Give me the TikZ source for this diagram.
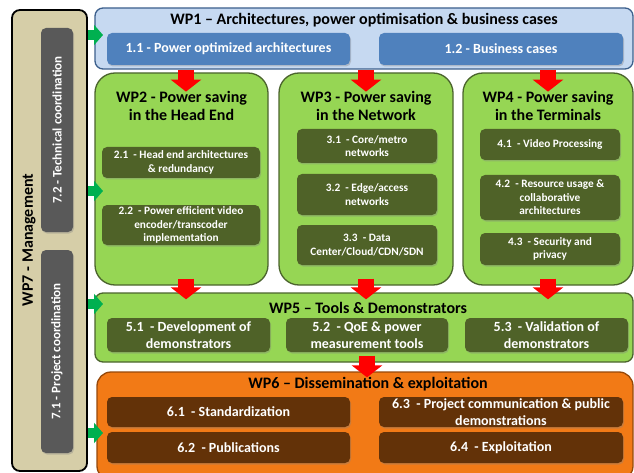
\documentclass[tikz,border=0pt]{standalone}
\usepackage{fontspec}
\setmainfont{Carlito}
\usetikzlibrary{arrows.meta,shadows}
\definecolor{MgmtClr}{RGB}{214,206,168}
\definecolor{CoordClr}{RGB}{89,89,89}
\definecolor{BlueClr}{RGB}{198,217,241}
\definecolor{BlueLine}{RGB}{60,95,140}
\definecolor{BlueSub}{RGB}{79,129,189}
\definecolor{GreenClr}{RGB}{150,214,84}
\definecolor{GreenLine}{RGB}{75,100,45}
\definecolor{GreenSub}{RGB}{79,98,40}
\definecolor{OrangeClr}{RGB}{242,122,22}
\definecolor{OrangeLine}{RGB}{150,72,10}
\definecolor{BrownSub}{RGB}{99,50,8}
\definecolor{ArrowGreen}{RGB}{0,176,80}

\begin{document}
\begin{tikzpicture}[x=1pt,y=-1pt,
  wpbox/.style={draw,line width=1.3pt,inner sep=0pt},
  subbox/.style={rounded corners=5pt,inner sep=1pt,align=center,text=white,
    drop shadow={shadow xshift=1pt,shadow yshift=-1.5pt,opacity=0.35}},
  title/.style={font=\bfseries\fontsize{16}{18}\selectfont,align=center},
  bigtxt/.style={font=\bfseries\fontsize{14}{16.5}\selectfont},
  smalltxt/.style={font=\bfseries\fontsize{11.3}{13.6}\selectfont},
  redarrow/.style={red,line width=16pt,-{Triangle[width=30pt,length=12pt]}},
  greenarrow/.style={ArrowGreen,line width=10pt,-{Triangle[width=20pt,length=9pt]}}]
\clip (0,0) rectangle (634,473);

% WP7
\node[wpbox,fill=MgmtClr,line width=1.8pt,rounded corners=8pt,
  minimum width=75pt,minimum height=461pt] (wp7) at (49.5,240.5) {};
\node[title,rotate=90] (wp7t) at (29,240) {WP7 - Management};
\node[subbox,fill=CoordClr,rotate=90,minimum width=204pt,minimum height=32pt,
  font=\bfseries\fontsize{13}{15}\selectfont] (t72) at (57,130) {7.2 - Technical coordination};
\node[subbox,fill=CoordClr,rotate=90,minimum width=203pt,minimum height=32pt,
  font=\bfseries\fontsize{13}{15}\selectfont] (t71) at (57,351.5) {7.1 - Project coordination};

% WP1
\node[wpbox,fill=BlueClr,draw=BlueLine,rounded corners=8pt,
  minimum width=538pt,minimum height=61pt] (wp1) at (364,38.5) {};
\node[title] (wp1t) at (364,20) {WP1 – Architectures, power optimisation \& business cases};
\node[subbox,bigtxt,fill=BlueSub,minimum width=243pt,minimum height=32pt] (p11) at (228.5,49) {1.1 - Power optimized architectures};
\node[subbox,bigtxt,fill=BlueSub,minimum width=244pt,minimum height=32pt] (p12) at (501,49) {1.2 - Business cases};

% WP2 - WP4
\node[wpbox,fill=GreenClr,draw=GreenLine,rounded corners=20pt,
  minimum width=173pt,minimum height=212pt] (wp2) at (181.5,179) {};
\node[wpbox,fill=GreenClr,draw=GreenLine,rounded corners=20pt,
  minimum width=174pt,minimum height=212pt] (wp3) at (366,179) {};
\node[wpbox,fill=GreenClr,draw=GreenLine,rounded corners=20pt,
  minimum width=170pt,minimum height=212pt] (wp4) at (548,179) {};
\node[title] (wp2t) at (181.5,106) {WP2 - Power saving\\in the Head End};
\node[title] (wp3t) at (366,106) {WP3 - Power saving\\in the Network};
\node[title] (wp4t) at (548,106) {WP4 - Power saving\\in the Terminals};

\node[subbox,smalltxt,fill=GreenSub,minimum width=158pt,minimum height=31pt] (p21) at (181,162.5) {2.1~ - Head end architectures\\\& redundancy};
\node[subbox,smalltxt,fill=GreenSub,minimum width=158pt,minimum height=40pt] (p22) at (181,225) {2.2~ - Power efficient video\\encoder/transcoder\\implementation};
\node[subbox,smalltxt,fill=GreenSub,minimum width=140pt,minimum height=34pt] (p31) at (367,146) {3.1~ - Core/metro\\networks};
\node[subbox,smalltxt,fill=GreenSub,minimum width=140pt,minimum height=41pt] (p32) at (367,194.5) {3.2~ - Edge/access\\networks};
\node[subbox,smalltxt,fill=GreenSub,minimum width=140pt,minimum height=40pt] (p33) at (367,245) {3.3~ - Data\\Center/Cloud/CDN/SDN};
\node[subbox,smalltxt,fill=GreenSub,minimum width=140pt,minimum height=31pt] (p41) at (550,144.5) {4.1~ - Video Processing};
\node[subbox,smalltxt,fill=GreenSub,minimum width=140pt,minimum height=45pt] (p42) at (550,197.5) {4.2~ - Resource usage \&\\collaborative\\architectures};
\node[subbox,smalltxt,fill=GreenSub,minimum width=140pt,minimum height=32pt] (p43) at (550,249) {4.3~ - Security and\\privacy};

% WP5
\node[wpbox,fill=GreenClr,draw=GreenLine,rounded corners=8pt,
  minimum width=538pt,minimum height=69pt] (wp5) at (364,327.5) {};
\node[title] (wp5t) at (368,308) {WP5 – Tools \& Demonstrators};
\node[subbox,bigtxt,fill=GreenSub,minimum width=163pt,minimum height=34pt] (p51) at (188.5,335) {5.1~ - Development of\\demonstrators};
\node[subbox,bigtxt,fill=GreenSub,minimum width=162pt,minimum height=34pt] (p52) at (367,335) {5.2~ - QoE \& power\\measurement tools};
\node[subbox,bigtxt,fill=GreenSub,minimum width=163pt,minimum height=34pt] (p53) at (546.5,335) {5.3~ - Validation of\\demonstrators};

% WP6
\node[wpbox,fill=OrangeClr,draw=OrangeLine,rounded corners=14pt,
  minimum width=536pt,minimum height=108pt] (wp6) at (365,426) {};
\node[title] (wp6t) at (368,384) {WP6 – Dissemination \& exploitation};
\node[subbox,bigtxt,fill=BrownSub,minimum width=243pt,minimum height=30pt] (p61) at (228.5,412) {6.1~ - Standardization};
\node[subbox,bigtxt,fill=BrownSub,minimum width=243pt,minimum height=31pt] (p62) at (228.5,447.5) {6.2~ - Publications};
\node[subbox,bigtxt,fill=BrownSub,minimum width=244pt,minimum height=30pt] (p63) at (501,412) {6.3~ - Project communication \& public\\demonstrations};
\node[subbox,bigtxt,fill=BrownSub,minimum width=244pt,minimum height=31pt] (p64) at (501,447.5) {6.4~ - Exploitation};

% arrows
\coordinate (r2) at (186,0);
\draw[redarrow] (wp1.south -| r2) -- ++(0,22);
\draw[redarrow] (wp1.south -| wp3) -- ++(0,22);
\draw[redarrow] (wp1.south -| wp4) -- ++(0,22);
\draw[redarrow] ([yshift=7pt]wp2.south -| r2) -- ([yshift=-7pt]wp5.north -| r2);
\draw[redarrow] ([yshift=7pt]wp3.south) -- ([yshift=-7pt]wp5.north -| wp3);
\draw[redarrow] ([yshift=7pt]wp4.south) -- ([yshift=-7pt]wp5.north -| wp4);
\draw[redarrow] ([yshift=7pt]wp5.south -| p52) -- ([yshift=-6pt]wp6.north -| p52);

\coordinate (g1) at (103,35);
\coordinate (g2) at (103,191);
\coordinate (g3) at (103,304);
\coordinate (g4) at (103,433);
\foreach \g in {g1,g2,g3,g4}
  \draw[greenarrow] (wp7.east |- \g) -- (\g);
\end{tikzpicture}
\end{document}
